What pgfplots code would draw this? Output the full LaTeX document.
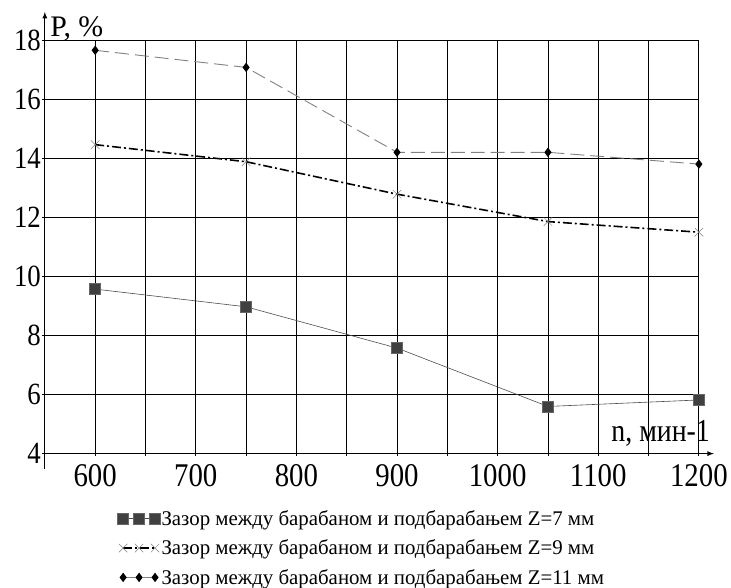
\documentclass[border=0pt]{standalone}
\usepackage{fontspec}
\setmainfont{Liberation Serif}
\usepackage{graphicx}
\usepackage{pgfplots}
\pgfplotsset{compat=1.18}
\newcommand{\St}[1]{\scalebox{1}[1.15]{#1}}
\begin{document}
\begin{tikzpicture}
\begin{axis}[
  scale only axis, width=656bp, height=414bp,
  xmin=550, xmax=1200, ymin=4, ymax=18,
  axis lines=left,
  x axis line style={very thick, -latex, shorten >=-15bp},
  y axis line style={very thick, -latex, shorten >=-29bp, shorten <=-15bp},
  xtick={600,700,...,1200},
  xticklabels={\St{600},\St{700},\St{800},\St{900},\St{1000},\St{1100},\St{1200}},
  minor xtick={650,750,...,1150},
  ytick={4,6,...,18},
  yticklabels={\St{4},\St{6},\St{8},\St{10},\St{12},\St{14},\St{16},\St{18}},
  grid=both,
  major grid style={black, line width=0.9pt},
  minor grid style={black, line width=0.9pt},
  major tick length=5bp, minor tick length=5bp,
  tick style={black, thick},
  tick label style={font=\fontsize{29}{32}\selectfont},
  xticklabel style={yshift=-5bp},
  yticklabel style={xshift=2bp, font=\fontsize{27}{30}\selectfont},
  clip=false,
  legend style={at={(rel axis cs:0.111,-0.135)}, anchor=north west, draw=none, fill=none,
    font=\fontsize{21}{24}\selectfont, row sep=11pt, inner sep=0pt,
    nodes={inner sep=1pt}},
  legend cell align=left,
  legend image code/.code={\draw[mark repeat=1, #1] plot coordinates {(0bp,0bp) (16bp,0bp) (32bp,0bp)};},
]
\addplot[gray!60!black, line width=0.6pt, mark=square*, mark size=5.5bp,
  mark options={solid, fill=black!75, draw=black!60}]
  coordinates {(600,9.58) (750,8.98) (900,7.58) (1050,5.6) (1200,5.82)};
\addlegendentry{Зазор между барабаном и подбарабањем Z=7 мм}
\addplot[black, line width=1.6pt, dash pattern=on 9bp off 3bp on 2bp off 3bp, mark=x, mark size=6bp,
  mark options={solid, line width=0.5pt, draw=gray}]
  coordinates {(600,14.48) (750,13.9) (900,12.8) (1050,11.87) (1200,11.51)};
\addlegendentry{Зазор между барабаном и подбарабањем Z=9 мм}
\addplot[gray, line width=0.9pt, dash pattern=on 14bp off 6bp, mark=diamond*, mark size=4bp,
  mark options={solid, fill=black, draw=black}]
  coordinates {(600,17.68) (750,17.1) (900,14.22) (1050,14.22) (1200,13.82)};
\addlegendentry{Зазор между барабаном и подбарабањем Z=11 мм}
\node[anchor=base west, font=\fontsize{30}{32}\selectfont, inner sep=0pt] at (rel axis cs:0.008,1.01) {P, \%};
\node[anchor=base east, font=\fontsize{28}{30}\selectfont, inner sep=0pt] at (rel axis cs:1.017,0.03) {\St{n, мин-1}};
\path (rel axis cs:-0.0686,-0.3237) rectangle (rel axis cs:1.0457,1.099);
\end{axis}
\end{tikzpicture}
\end{document}
